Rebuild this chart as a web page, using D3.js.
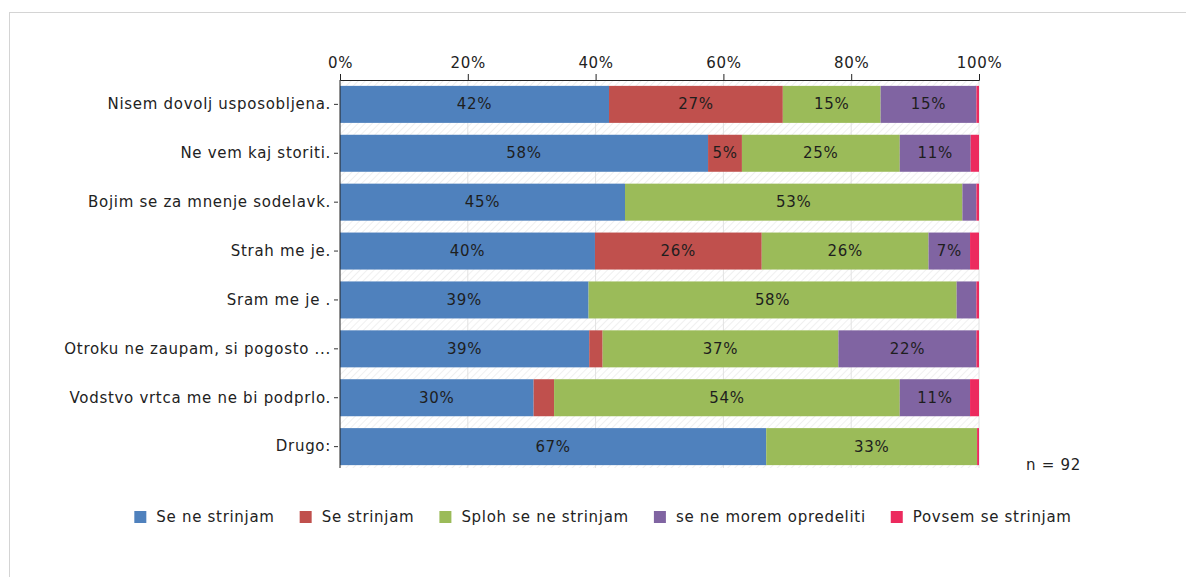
<!DOCTYPE html>
<html>
<head>
<meta charset="utf-8">
<script src="https://cdn.jsdelivr.net/npm/d3@7"></script>
<style>
  body { margin: 0; background: #fff; }
  svg { display: block; font-family: 'DejaVu Sans', sans-serif; }
  svg text { letter-spacing: 0.7px; }
</style>
</head>
<body>
<svg id="chart"></svg>
<script>
const categories = [
  'Nisem dovolj usposobljena.',
  'Ne vem kaj storiti.',
  'Bojim se za mnenje sodelavk.',
  'Strah me je.',
  'Sram me je .',
  'Otroku ne zaupam, si pogosto ...',
  'Vodstvo vrtca me ne bi podprlo.',
  'Drugo:'
]
const seriesNames = ['Se ne strinjam', 'Se strinjam', 'Sploh se ne strinjam', 'se ne morem opredeliti', 'Povsem se strinjam']
const seNeStrinjam = [42.1, 57.6, 44.6, 39.9, 38.9, 39.0, 30.3, 66.7]
const seStrinjam = [27.2, 5.3, 0, 26.1, 0, 2.1, 3.2, 0]
const splohSeNeStrinjam = [15.3, 24.7, 52.8, 26.1, 57.6, 36.9, 54.1, 33.0]
const neMoremOpredeliti = [15.0, 11.1, 2.2, 6.5, 3.1, 21.6, 11.0, 0]
const povsemSeStrinjam = [0.4, 1.3, 0.4, 1.4, 0.4, 0.4, 1.4, 0.3]
const ticks = [0, 20, 40, 60, 80, 100]
const colors = ['#4f81bd', '#c0504d', '#9bbb59', '#8064a2', '#ec2a5e']
const sampleSize = 'n = 92'

const w = 1186
const h = 577
const pLeft = 340
const pRight = 979
const pTop = 80
const pBottom = 471

const svg = d3.select('#chart').attr('width', w).attr('height', h)

// frame around the chart
svg.append('rect')
  .attr('x', 9.5).attr('y', 12.5)
  .attr('width', w).attr('height', h)
  .attr('fill', 'none')
  .attr('stroke', '#d4d4d4')

// hatched plot background
const pattern = svg.append('defs').append('pattern')
  .attr('id', 'hatch')
  .attr('width', 5).attr('height', 5)
  .attr('patternUnits', 'userSpaceOnUse')
  .attr('patternTransform', 'rotate(45)')
pattern.append('rect').attr('width', 5).attr('height', 5).attr('fill', '#fff')
pattern.append('line')
  .attr('x1', 0).attr('y1', 0).attr('x2', 0).attr('y2', 5)
  .attr('stroke', '#ececec').attr('stroke-width', 1.5)

const rows = categories.map((c, i) => ({
  cat: c,
  vals: [seNeStrinjam[i], seStrinjam[i], splohSeNeStrinjam[i], neMoremOpredeliti[i], povsemSeStrinjam[i]]
}))

const xScale = d3.scaleLinear().domain([0, 100]).range([pLeft, pRight])
const yScale = d3.scaleBand()
  .domain(categories)
  .range([pTop, pBottom])
  .paddingInner(0.243)
  .paddingOuter(0.12)

svg.append('rect')
  .attr('x', pLeft).attr('y', pTop)
  .attr('width', pRight - pLeft).attr('height', pBottom - pTop - 3)
  .attr('fill', 'url(#hatch)')

svg.append('g')
  .selectAll('line')
  .data(ticks.slice(1))
  .enter()
  .append('line')
  .attr('x1', d => xScale(d)).attr('x2', d => xScale(d))
  .attr('y1', pTop).attr('y2', pBottom - 3)
  .attr('stroke', '#e2e2e2')

// stacked segments
const segs = []
rows.forEach(r => {
  let acc = 0
  r.vals.forEach((v, k) => {
    segs.push({ cat: r.cat, k, v, x0: acc, x1: acc + v })
    acc += v
  })
})

svg.append('g')
  .selectAll('rect')
  .data(segs.filter(d => d.v > 0))
  .enter()
  .append('rect')
  .attr('x', d => xScale(d.x0))
  .attr('y', d => yScale(d.cat))
  .attr('width', d => xScale(d.x1) - xScale(d.x0))
  .attr('height', yScale.bandwidth())
  .attr('fill', d => colors[d.k])

svg.append('g')
  .selectAll('text')
  .data(segs.filter(d => d.v >= 4.5))
  .enter()
  .append('text')
  .text(d => `${Math.round(d.v)}%`)
  .attr('x', d => xScale((d.x0 + d.x1) / 2))
  .attr('y', d => yScale(d.cat) + yScale.bandwidth() / 2 + 5)
  .attr('text-anchor', 'middle')
  .style('font-size', '15px')
  .style('fill', '#1e1e1e')

// top axis
const xAxis = d3.axisTop(xScale)
  .tickValues(ticks)
  .tickFormat(d => d + '%')
  .tickSizeOuter(0)
  .tickSize(6)
  .tickPadding(6)

const gx = svg.append('g')
  .attr('transform', `translate(0, ${pTop})`)
  .call(xAxis)
gx.selectAll('text').style('font-size', '15px').style('fill', '#222').style('font-family', 'DejaVu Sans')
gx.selectAll('line, path').attr('stroke', '#222')

// left axis
const yAxis = d3.axisLeft(yScale).tickSize(5).tickPadding(6).tickSizeOuter(0)
const gy = svg.append('g')
  .attr('transform', `translate(${pLeft}, 0)`)
  .call(yAxis)
gy.select('.domain').remove()
gy.selectAll('.tick line').attr('x1', -2).attr('x2', -6).attr('stroke', '#333')
gy.selectAll('text')
  .attr('x', -9)
  .style('font-size', '15px').style('fill', '#222').style('font-family', 'DejaVu Sans')
gy.append('line')
  .attr('x1', 0).attr('x2', 0)
  .attr('y1', pTop).attr('y2', pBottom - 3)
  .attr('stroke', '#222')

svg.append('text')
  .text(sampleSize)
  .attr('x', 1026).attr('y', 470)
  .style('font-size', '15px')
  .style('fill', '#222')

// legend
const legend = svg.append('g')
const items = legend.selectAll('g')
  .data(seriesNames)
  .enter()
  .append('g')
items.append('rect')
  .attr('width', 12).attr('height', 12)
  .attr('y', 511)
  .attr('fill', (d, i) => colors[i])
items.append('text')
  .text(d => d)
  .attr('x', 22).attr('y', 522)
  .style('font-size', '15px')
  .style('fill', '#222')

const gap = 25
let pos = 0
const offsets = []
items.each(function () {
  offsets.push(pos)
  pos += 22 + this.querySelector('text').getComputedTextLength() + gap
})
const totalW = pos - gap
const startX = 603 - totalW / 2
items.attr('transform', (d, i) => `translate(${startX + offsets[i]}, 0)`)
</script>
</body>
</html>
